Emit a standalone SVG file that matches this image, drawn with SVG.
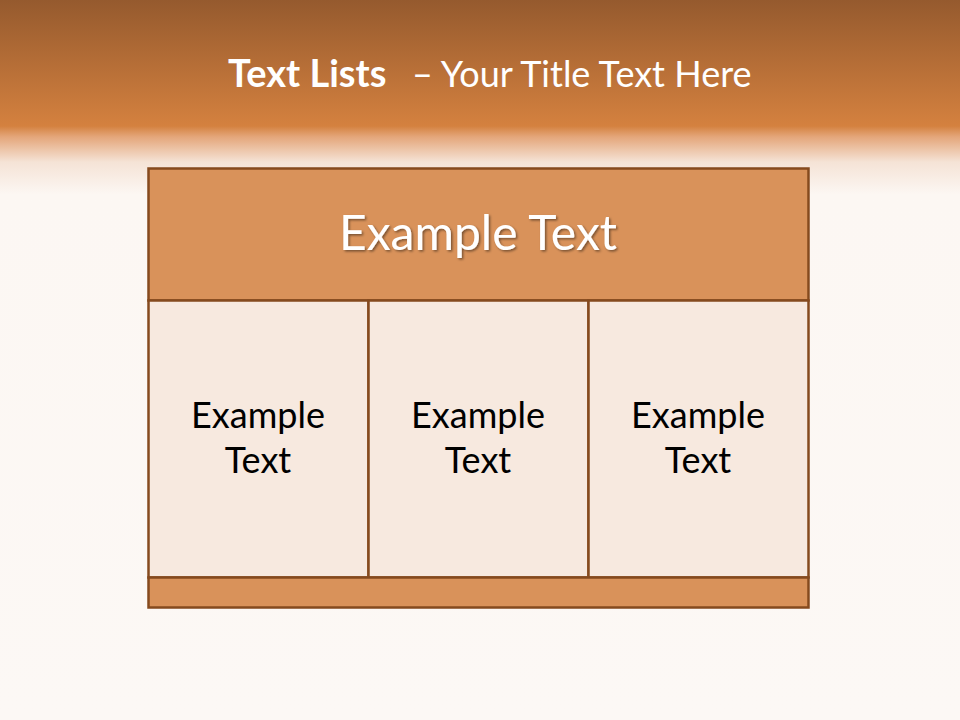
<svg xmlns="http://www.w3.org/2000/svg" width="960" height="720" viewBox="0 0 960 720">
<defs>
<linearGradient id="bg" x1="0" y1="0" x2="0" y2="720" gradientUnits="userSpaceOnUse">
<stop offset="0" stop-color="#955A2E"/>
<stop offset="0.175" stop-color="#D4813F"/>
<stop offset="0.19" stop-color="#E4A67A"/>
<stop offset="0.225" stop-color="#F5E3D6"/>
<stop offset="0.27" stop-color="#FCF7F3"/>
<stop offset="1" stop-color="#FCF8F5"/>
</linearGradient>
<filter id="sh" x="-10%" y="-20%" width="120%" height="150%">
<feDropShadow dx="1.5" dy="1.5" stdDeviation="1" flood-color="#000" flood-opacity="0.45"/>
</filter>
</defs>
<style>
.box{stroke:#854A1E;stroke-width:2.5}
.hdr{fill:#D9925A}
.cell{fill:#F7E9DF}
.t{font-family:Lato,"Open Sans","Liberation Sans",sans-serif;text-anchor:middle}
.ct{font-size:36px;fill:#000}
</style>
<rect width="960" height="720" fill="url(#bg)"/>
<text y="87" style="font-family:Lato,'Open Sans','Liberation Sans',sans-serif;fill:#fff"><tspan x="228" font-weight="bold" font-size="38">Text Lists</tspan><tspan x="412" font-size="36">– Your Title Text Here</tspan></text>
<g id="header">
<rect class="box hdr" x="148.5" y="168.5" width="660" height="132"/>
<text x="478" y="250" class="t" style="font-size:48px;fill:#fff" filter="url(#sh)">Example Text</text>
</g>
<g id="cell1">
<rect class="box cell" x="148.5" y="300.5" width="220" height="277"/>
<text x="258" y="428" class="t ct">Example</text>
<text x="258" y="473" class="t ct">Text</text>
</g>
<g id="cell2">
<rect class="box cell" x="368.5" y="300.5" width="220" height="277"/>
<text x="478" y="428" class="t ct">Example</text>
<text x="478" y="473" class="t ct">Text</text>
</g>
<g id="cell3">
<rect class="box cell" x="588.5" y="300.5" width="220" height="277"/>
<text x="698" y="428" class="t ct">Example</text>
<text x="698" y="473" class="t ct">Text</text>
</g>
<g id="footer">
<rect class="box hdr" x="148.5" y="577.5" width="660" height="30"/>
</g>
<g id="connectors"/>
</svg>
